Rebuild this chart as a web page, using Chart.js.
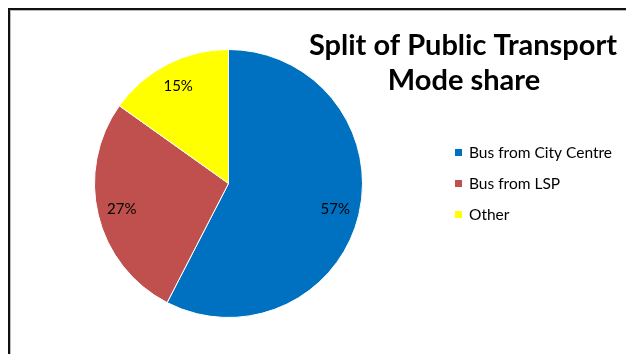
<!DOCTYPE html>
<html>
<head>
<meta charset="utf-8">
<script src="https://cdn.jsdelivr.net/npm/chart.js@4/dist/chart.umd.min.js"></script>
<style>
  html, body { margin: 0; padding: 0; background: #fff; overflow: hidden; }
  #wrap { position: relative; width: 626px; height: 354px; }
  #frame {
    position: absolute; left: 8px; top: 8px; width: 700px; height: 400px;
    border-left: 2px solid #111; border-top: 2px solid #111;
    box-shadow: inset 1px 1px 0 #bbb;
  }
  canvas { position: absolute; left: 0; top: 0; }
</style>
</head>
<body>
<div id="wrap">
  <canvas id="chart" width="626" height="354"></canvas>
  <div id="frame"></div>
</div>
<script>
const titleLines = ['Split of Public Transport', 'Mode share'];
const labels = ['Bus from City Centre', 'Bus from LSP', 'Other'];
const shares = [57, 27, 15];
const colors = ['#0070C0', '#C0504D', '#FFFF00'];

const FONT = 'Lato, "Open Sans", sans-serif';

// percent labels inside each slice, near the rim
const sliceLabels = {
  id: 'sliceLabels',
  afterDatasetsDraw(chart) {
    const ctx = chart.ctx;
    const meta = chart.getDatasetMeta(0);
    ctx.save();
    ctx.font = '15px ' + FONT;
    ctx.fillStyle = '#000';
    ctx.textAlign = 'center';
    ctx.textBaseline = 'middle';
    meta.data.forEach((arc, i) => {
      const { x, y, startAngle, endAngle, outerRadius } = arc.getProps(['x', 'y', 'startAngle', 'endAngle', 'outerRadius'], true);
      const mid = (startAngle + endAngle) / 2;
      const r = outerRadius * 0.82;
      ctx.fillText(shares[i] + '%', x + Math.cos(mid) * r, y + Math.sin(mid) * r);
    });
    ctx.restore();
  }
};

// title and legend sit to the right of the pie
const sidePanel = {
  id: 'sidePanel',
  afterDraw(chart) {
    const ctx = chart.ctx;
    ctx.save();
    ctx.fillStyle = '#000';
    ctx.textAlign = 'center';
    ctx.textBaseline = 'alphabetic';
    ctx.font = 'bold 29px ' + FONT;
    ctx.fillText(titleLines[0], 463, 55);
    ctx.fillText(titleLines[1], 464, 90);

    ctx.font = '15.5px ' + FONT;
    ctx.textAlign = 'left';
    ctx.textBaseline = 'middle';
    labels.forEach((name, i) => {
      const y = 153 + i * 31;
      ctx.fillStyle = colors[i];
      ctx.fillRect(455, y - 4, 7, 7);
      ctx.fillStyle = '#000';
      ctx.fillText(name, 469, y);
    });
    ctx.restore();
  }
};

new Chart(document.getElementById('chart').getContext('2d'), {
  type: 'pie',
  data: {
    labels: labels,
    datasets: [{
      data: shares,
      backgroundColor: colors,
      borderColor: '#fff',
      borderWidth: 1
    }]
  },
  options: {
    responsive: false,
    animation: false,
    layout: { padding: { left: 94, right: 263, top: 49, bottom: 36 } },
    plugins: {
      legend: { display: false },
      title: { display: false },
      tooltip: { enabled: false }
    }
  },
  plugins: [sliceLabels, sidePanel]
});
</script>
</body>
</html>
